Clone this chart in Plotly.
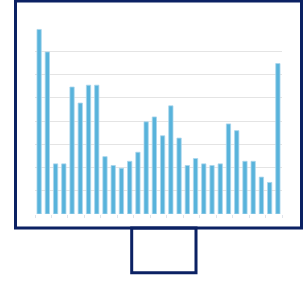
import plotly.graph_objects as go

categories = [f"C{i}" for i in range(1, 31)]
values = [7.95, 6.98, 2.16, 2.16, 5.47, 4.78, 5.55, 5.55, 2.47, 2.09,
          1.97, 2.27, 2.66, 3.97, 4.18, 3.37, 4.66, 3.27, 2.09, 2.39,
          2.16, 2.09, 2.16, 3.88, 3.59, 2.27, 2.27, 1.59, 1.36, 6.48]
grid_ticks = [0, 1, 2, 3, 4, 5, 6, 7]

NAVY = "#0b2163"

fig = go.Figure(go.Bar(
    x=categories, y=values,
    marker=dict(color="#58b3db", line=dict(color="#a9d6ec", width=0.8)),
    hoverinfo="skip",
))

# decorative monitor frame and stand (pixel offsets from plot origin)
fig.add_shape(type="rect", xref="paper", yref="paper",
              xsizemode="pixel", ysizemode="pixel", xanchor=0, yanchor=0,
              x0=-19.5, x1=266.5, y0=-14, y1=213,
              line=dict(color=NAVY, width=3), layer="above")
fig.add_shape(type="rect", xref="paper", yref="paper",
              xsizemode="pixel", ysizemode="pixel", xanchor=0, yanchor=0,
              x0=96.7, x1=161, y0=-58.7, y1=-14,
              line=dict(color=NAVY, width=3), layer="above")

fig.update_layout(
    width=304, height=287,
    margin=dict(l=35, r=22, t=18.6, b=72.7),
    paper_bgcolor="white", plot_bgcolor="white",
    bargap=0.48, showlegend=False,
    xaxis=dict(showticklabels=False, showgrid=False, zeroline=False,
               ticks="outside", tickson="boundaries", ticklen=3,
               tickcolor="#dfe3ea", tickwidth=1, showline=False),
    yaxis=dict(range=[0, 8.4], tickvals=grid_ticks, showticklabels=False,
               showgrid=True, gridcolor="#e4e4e4", gridwidth=1.2,
               zeroline=False, showline=False),
)

fig.write_html("out.html", config={"displayModeBar": False},
               post_script="document.body.style.margin='0';document.body.style.overflow='hidden';")
